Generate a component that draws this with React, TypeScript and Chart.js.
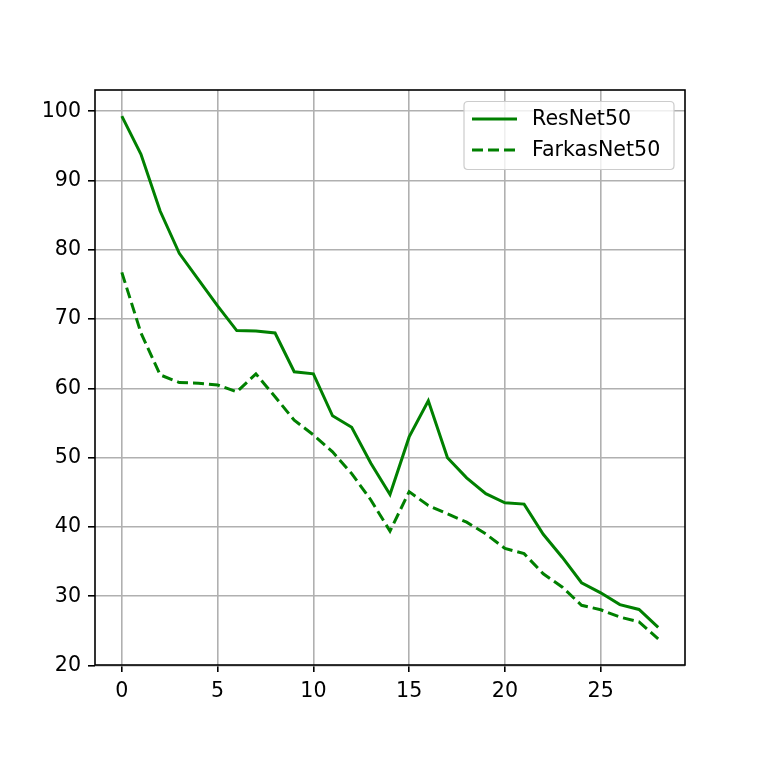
import React, { useEffect, useRef } from "react";
import { Chart, registerables } from "chart.js";

Chart.register(...registerables);

const epochs = Array.from({ length: 29 }, (_, i) => i);
const resnet50 = [
  99.3, 93.8, 85.6, 79.5, 75.7, 71.9, 68.35, 68.3, 68.0, 62.4, 62.1, 56.05, 54.4, 49.2, 44.7,
  53.0, 58.2, 50.0, 47.1, 44.8, 43.5, 43.3, 38.95, 35.6, 31.95, 30.5, 28.8, 28.1, 25.5,
];
const farkasNet50 = [
  76.75, 68.0, 61.95, 60.85, 60.75, 60.5, 59.5, 62.1, 58.8, 55.4, 53.3, 50.85, 47.7, 43.9, 39.4,
  45.1, 43.1, 41.9, 40.7, 39.0, 36.9, 36.15, 33.25, 31.3, 28.7, 28.05, 27.0, 26.3, 23.85,
];
const seriesLabels = ["ResNet50", "FarkasNet50"];
const xTicks = [0, 5, 10, 15, 20, 25];
const yTicks = [20, 30, 40, 50, 60, 70, 80, 90, 100];

const FONT = "DejaVu Sans";
const FONT_SIZE = 20.6;
const GREEN = "#008000";

const framePlugin = {
  id: "frameAndLegend",
  afterDraw(chart: any) {
    const { ctx, chartArea } = chart;
    const { left, right, top, bottom } = chartArea;
    ctx.save();
    ctx.strokeStyle = "#000000";
    ctx.lineWidth = 1.6;
    ctx.strokeRect(left, top, right - left, bottom - top);

    // legend
    const bw = 210;
    const bh = 68;
    const bx = right - 11 - bw;
    const by = top + 11.5;
    const r = 4;
    ctx.beginPath();
    ctx.moveTo(bx + r, by);
    ctx.lineTo(bx + bw - r, by);
    ctx.quadraticCurveTo(bx + bw, by, bx + bw, by + r);
    ctx.lineTo(bx + bw, by + bh - r);
    ctx.quadraticCurveTo(bx + bw, by + bh, bx + bw - r, by + bh);
    ctx.lineTo(bx + r, by + bh);
    ctx.quadraticCurveTo(bx, by + bh, bx, by + bh - r);
    ctx.lineTo(bx, by + r);
    ctx.quadraticCurveTo(bx, by, bx + r, by);
    ctx.closePath();
    ctx.fillStyle = "rgba(255,255,255,0.8)";
    ctx.fill();
    ctx.strokeStyle = "#cccccc";
    ctx.lineWidth = 1.2;
    ctx.stroke();

    const rows = [by + 17.5, by + 48.5];
    chart.data.datasets.forEach((ds: any, i: number) => {
      const y = rows[i];
      ctx.beginPath();
      ctx.strokeStyle = ds.borderColor;
      ctx.lineWidth = ds.borderWidth;
      ctx.setLineDash(ds.borderDash || []);
      ctx.moveTo(bx + 8, y);
      ctx.lineTo(bx + 53, y);
      ctx.stroke();
      ctx.setLineDash([]);
      ctx.fillStyle = "#000000";
      ctx.font = `${FONT_SIZE}px "${FONT}"`;
      ctx.textBaseline = "middle";
      ctx.textAlign = "left";
      ctx.fillText(ds.label, bx + 68, y + 1);
    });
    ctx.restore();
  },
};

export default function App() {
  const ref = useRef<HTMLCanvasElement>(null);
  useEffect(() => {
    if (!ref.current) return;
    const chart = new Chart(ref.current, {
      type: "line",
      data: {
        datasets: [
          {
            label: seriesLabels[0],
            data: epochs.map((x, i) => ({ x, y: resnet50[i] })),
            borderColor: GREEN,
            borderWidth: 3,
            pointRadius: 0,
            tension: 0,
            fill: false,
          },
          {
            label: seriesLabels[1],
            data: epochs.map((x, i) => ({ x, y: farkasNet50[i] })),
            borderColor: GREEN,
            borderWidth: 3,
            borderDash: [11, 5],
            pointRadius: 0,
            tension: 0,
            fill: false,
          },
        ],
      },
      options: {
        responsive: false,
        animation: false,
        layout: { padding: { top: 90, right: 76, left: 0, bottom: 0 } },
        plugins: { legend: { display: false }, tooltip: { enabled: false } },
        scales: {
          x: {
            type: "linear",
            min: -1.4,
            max: 29.4,
            afterBuildTicks: (s: any) => {
              s.ticks = xTicks.map((v) => ({ value: v }));
            },
            afterFit: (s: any) => {
              s.height = 96;
            },
            grid: { color: "#b0b0b0", lineWidth: 1.6, tickLength: 7, tickColor: "#000000" },
            border: { display: false },
            ticks: {
              color: "#000000",
              font: { family: FONT, size: FONT_SIZE },
              padding: 7,
              maxRotation: 0,
              autoSkip: false,
            },
          },
          y: {
            type: "linear",
            min: 20.08,
            max: 103.07,
            afterBuildTicks: (s: any) => {
              s.ticks = yTicks.map((v) => ({ value: v }));
            },
            afterFit: (s: any) => {
              s.width = 95;
            },
            grid: { color: "#b0b0b0", lineWidth: 1.6, tickLength: 7, tickColor: "#000000" },
            border: { display: false },
            ticks: {
              color: "#000000",
              font: { family: FONT, size: FONT_SIZE },
              padding: 7,
              autoSkip: false,
            },
          },
        },
      },
      plugins: [framePlugin],
    });
    return () => chart.destroy();
  }, []);
  return (
    <div style={{ position: "absolute", left: 0, top: 0, width: 761, height: 761, background: "#fff" }}>
      <canvas ref={ref} width={761} height={761} style={{ width: 761, height: 761, display: "block" }} />
    </div>
  );
}
